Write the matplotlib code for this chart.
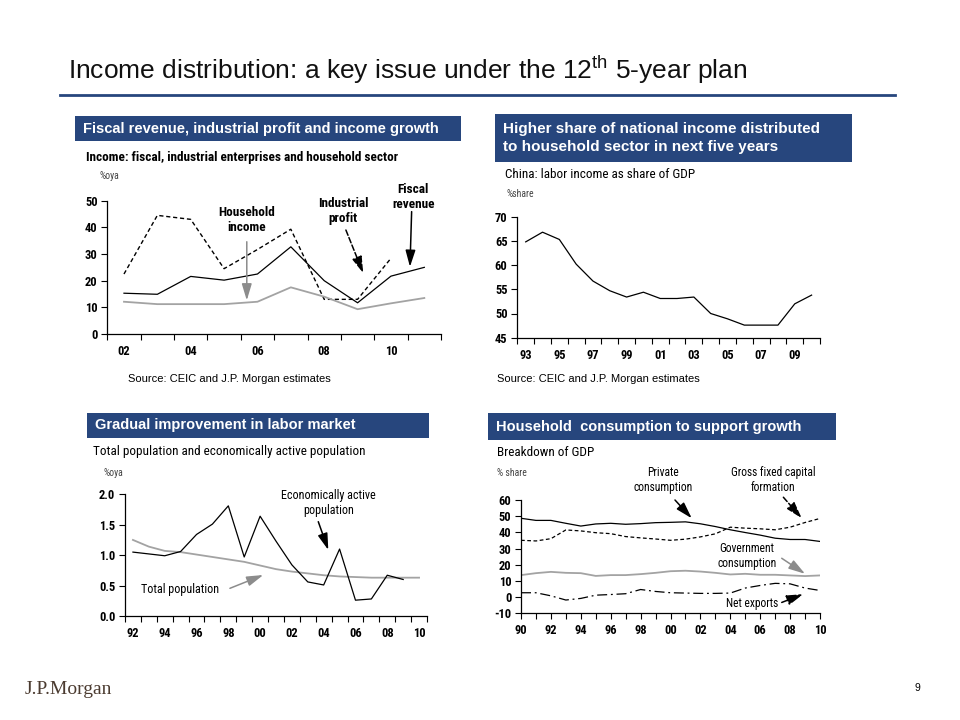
import numpy as np
import matplotlib
matplotlib.use("Agg")
import matplotlib.pyplot as plt
from matplotlib.patches import Rectangle
from matplotlib import font_manager

# ---- data --------------------------------------------------------------------
fiscal_years = list(range(2002, 2012))
fiscal_revenue = [15.3, 14.9, 21.6, 20.2, 22.5, 32.7, 20.0, 11.7, 21.7, 25.0]
profit_years = list(range(2002, 2011))
industrial_profit = [22.5, 44.5, 43.0, 24.5, 31.7, 39.3, 13.0, 13.0, 28.4]
household_income = [12.1, 11.2, 11.2, 11.2, 12.1, 17.5, 14.0, 9.3, 11.5, 13.5]

labor_years = list(range(1993, 2011))
labor_share = [64.8, 66.8, 65.3, 60.2, 56.7, 54.7, 53.4, 54.4, 53.1, 53.1,
               53.4, 50.0, 48.9, 47.6, 47.6, 47.6, 52.0, 53.8]

pop_years = list(range(1992, 2011))
total_pop = [1.25, 1.14, 1.07, 1.05, 1.01, 0.97, 0.93, 0.89, 0.83, 0.77,
             0.73, 0.70, 0.67, 0.65, 0.64, 0.63, 0.63, 0.63, 0.63]
active_years = list(range(1992, 2010))
active_pop = [1.05, 1.02, 0.99, 1.06, 1.34, 1.51, 1.81, 0.97, 1.64, 1.23,
              0.84, 0.56, 0.51, 1.10, 0.26, 0.28, 0.67, 0.60]

gdp_years = list(range(1990, 2011))
private_cons = [48.7, 47.4, 47.4, 45.6, 43.9, 45.2, 45.6, 45.0, 45.4, 46.0, 46.2,
                46.5, 45.3, 43.6, 41.6, 39.9, 38.3, 36.4, 35.6, 35.6, 34.4]
gfcf = [35.1, 34.7, 36.1, 41.5, 40.9, 39.8, 39.2, 37.4, 36.6, 35.9, 35.1,
        35.8, 37.2, 39.1, 43.2, 42.6, 42.2, 41.6, 43.2, 46.1, 48.6]
gov_cons = [13.6, 14.8, 15.6, 15.0, 14.8, 13.1, 13.6, 13.6, 14.2, 15.0, 16.0,
            16.3, 15.8, 15.0, 14.0, 14.4, 13.8, 13.8, 13.4, 13.0, 13.4]
net_exports = [2.7, 2.7, 0.8, -1.8, -0.8, 1.2, 1.6, 2.1, 4.7, 3.5, 2.7,
               2.5, 2.3, 2.3, 2.5, 5.6, 7.2, 8.5, 8.2, 5.6, 4.1]

# ---- style -------------------------------------------------------------------
NAVY = "#27467d"
GRAY = "#a3a3a3"
W, H = 960, 720

installed = {f.name for f in font_manager.fontManager.ttflist}
NARROW = next((n for n in ["Liberation Sans Narrow", "Roboto Condensed", "Liberation Sans"]
               if n in installed), "DejaVu Sans")
plt.rcParams["font.family"] = ["Liberation Sans", "DejaVu Sans"]
plt.rcParams["mathtext.fontset"] = "custom"
plt.rcParams["mathtext.rm"] = "Liberation Sans"

TICK_FONT = dict(fontfamily=NARROW, fontweight="bold", fontsize=9)


def fx(x):
    return x / W


def fy(y):
    return 1 - y / H


def axes_px(fig, left, top, right, bottom):
    return fig.add_axes([fx(left), fy(bottom), fx(right - left), (bottom - top) / H])


def style(ax, yticks, ylabels):
    for s in ("top", "right"):
        ax.spines[s].set_visible(False)
    for s in ("left", "bottom"):
        ax.spines[s].set_linewidth(0.9)
    ax.set_ylim(yticks[0], yticks[-1])
    ax.set_yticks(yticks)
    ax.set_yticklabels(ylabels, **TICK_FONT)
    ax.tick_params(axis="y", length=4, width=0.8, pad=3)
    ax.tick_params(axis="x", which="major", length=4, width=0.8)


def band_axis(ax, first, last, label_years):
    ax.set_xlim(first - 0.5, last + 0.5)
    ax.set_xticks(np.arange(first - 0.5, last + 1.0, 1.0))
    ax.set_xticklabels([])
    ax.set_xticks(label_years, minor=True)
    ax.set_xticklabels([f"{y % 100:02d}" for y in label_years], minor=True, **TICK_FONT)
    ax.tick_params(axis="x", which="minor", length=0, pad=8)


def header(fig, left, top, right, bottom, text, size=10):
    fig.patches.append(Rectangle((fx(left), fy(bottom)), fx(right - left), (bottom - top) / H,
                                 transform=fig.transFigure, facecolor=NAVY, edgecolor="none"))
    fig.text(fx(left + 8), fy((top + bottom) / 2), text, color="white", fontweight="bold",
             fontsize=size, va="center", ha="left", linespacing=1.3)


def subtitle(fig, x, y, text, unit, ux, uy, bold=False):
    fig.text(fx(x), fy(y), text, fontfamily=NARROW, fontweight="bold" if bold else "normal",
             fontsize=9.5, va="center")
    fig.text(fx(ux), fy(uy), unit, fontfamily=NARROW, fontsize=7, color="#444444", va="center")


def note(ax, text, xytext, bold=True, size=9.5):
    ax.text(*xytext, text, ha="center", va="center", fontfamily=NARROW,
            fontweight="bold" if bold else "normal", fontsize=size, linespacing=1.2)


def arrow(ax, start, end, color="black", ls="-"):
    ax.annotate("", xy=end, xytext=start, annotation_clip=False,
                arrowprops=dict(arrowstyle="-|>,head_length=1.0,head_width=0.3",
                                color=color, lw=1.1, linestyle=ls, shrinkA=0, shrinkB=0))


fig = plt.figure(figsize=(9.6, 7.2), dpi=100)

# ---- slide title -------------------------------------------------------------
fig.text(fx(68), fy(70), r"Income distribution: a key issue under the 12$^{\rm th}$ 5-year plan",
         fontsize=19, ha="left", va="center", color="#111111")
fig.lines.append(plt.Line2D([fx(60), fx(895)], [fy(95), fy(95)], transform=fig.transFigure,
                            color=NAVY, lw=2))

# ---- panel 1 -----------------------------------------------------------------
header(fig, 75, 116, 461, 141, "Fiscal revenue, industrial profit and income growth", 10.5)
subtitle(fig, 86, 157, "Income: fiscal, industrial enterprises and household sector",
         "%oya", 99, 176, bold=True)
ax1 = axes_px(fig, 107.3, 200.7, 441, 334)
ax1.plot(profit_years, industrial_profit, color="black", lw=1.0, ls=(0, (3, 2)))
ax1.plot(fiscal_years, household_income, color=GRAY, lw=1.3)
ax1.plot(fiscal_years, fiscal_revenue, color="black", lw=0.9)
style(ax1, [0, 10, 20, 30, 40, 50], ["0", "10", "20", "30", "40", "50"])
band_axis(ax1, 2002, 2011, [2002, 2004, 2006, 2008, 2010])
note(ax1, "Household\nincome", (2005.68, 42.9))
arrow(ax1, (2005.68, 34.6), (2005.68, 12.6), color="#8c8c8c")
note(ax1, "Industrial\nprofit", (2008.57, 46.3))
arrow(ax1, (2008.65, 39.0), (2009.17, 22.8), ls="--")
note(ax1, "Fiscal\nrevenue", (2010.67, 51.4))
arrow(ax1, (2010.62, 45.9), (2010.57, 25.2))
fig.text(fx(128), fy(379), "Source: CEIC and J.P. Morgan estimates", fontsize=8, va="center")

# ---- panel 2 -----------------------------------------------------------------
header(fig, 495, 114, 852, 162,
       "Higher share of national income distributed\nto household sector in next five years", 11)
subtitle(fig, 505, 175, "China: labor income as share of GDP", "%share", 507, 194)
ax2 = axes_px(fig, 517.3, 216.7, 820, 337.7)
ax2.plot(labor_years, labor_share, color="black", lw=0.9)
style(ax2, [45, 50, 55, 60, 65, 70], ["45", "50", "55", "60", "65", "70"])
band_axis(ax2, 1993, 2010, list(range(1993, 2010, 2)))
fig.text(fx(497), fy(379), "Source: CEIC and J.P. Morgan estimates", fontsize=8, va="center")

# ---- panel 3 -----------------------------------------------------------------
header(fig, 87, 413, 429, 438, "Gradual improvement in labor market", 10.5)
subtitle(fig, 93, 452, "Total population and economically active population", "%oya", 103, 473)
ax3 = axes_px(fig, 125, 494.3, 427, 616)
ax3.plot(pop_years, total_pop, color=GRAY, lw=1.3)
ax3.plot(active_years, active_pop, color="black", lw=0.9)
style(ax3, [0.0, 0.5, 1.0, 1.5, 2.0], ["0.0", "0.5", "1.0", "1.5", "2.0"])
band_axis(ax3, 1992, 2010, list(range(1992, 2011, 2)))
note(ax3, "Economically active\npopulation", (2004.29, 1.86), bold=False, size=8.7)
arrow(ax3, (2003.66, 1.55), (2004.29, 1.085))
note(ax3, "Total population", (1994.96, 0.43), bold=False, size=8.7)
arrow(ax3, (1998.1, 0.455), (2000.2, 0.674), color="#8c8c8c")

# ---- panel 4 -----------------------------------------------------------------
header(fig, 488, 413, 836, 440, "Household  consumption to support growth", 10.5)
subtitle(fig, 497, 453, "Breakdown of GDP", "% share", 497, 473)
ax4 = axes_px(fig, 521, 500, 820, 613.3)
ax4.plot(gdp_years, gfcf, color="black", lw=0.9, ls=(0, (3, 2)))
ax4.plot(gdp_years, gov_cons, color=GRAY, lw=1.3)
ax4.plot(gdp_years, net_exports, color="black", lw=0.9, ls=(0, (8, 3, 1.5, 3)))
ax4.plot(gdp_years, private_cons, color="black", lw=0.9)
style(ax4, list(range(-10, 61, 10)), [str(v) for v in range(-10, 61, 10)])
ax4.set_xlim(1990, 2010)
ax4.set_xticks(gdp_years)
ax4.set_xticklabels([f"{y % 100:02d}" if y % 2 == 0 else "" for y in gdp_years], **TICK_FONT)
note(ax4, "Private\nconsumption", (1999.52, 72.3), bold=False, size=8.3)
arrow(ax4, (2000.3, 60.0), (2001.42, 48.7))
note(ax4, "Gross fixed capital\nformation", (2006.88, 72.6), bold=False, size=8.3)
arrow(ax4, (2007.55, 61.7), (2008.78, 48.7), ls="--")
note(ax4, "Government\nconsumption", (2005.1, 25.5), bold=False, size=8.3)
arrow(ax4, (2007.44, 24.0), (2009.0, 14.4), color="#8c8c8c")
note(ax4, "Net exports", (2005.43, -3.7), bold=False, size=8.3)
arrow(ax4, (2007.44, -3.3), (2008.88, 1.85), ls="-.")

# ---- footer ------------------------------------------------------------------
fig.text(fx(25), fy(689), "J.P.Morgan", fontfamily=["Liberation Serif", "DejaVu Serif"],
         fontsize=14, color="#4b3b30", va="center")
fig.text(fx(917), fy(688), "9", fontsize=7.5, va="center", ha="center")

fig.savefig("out.png", dpi=100)
